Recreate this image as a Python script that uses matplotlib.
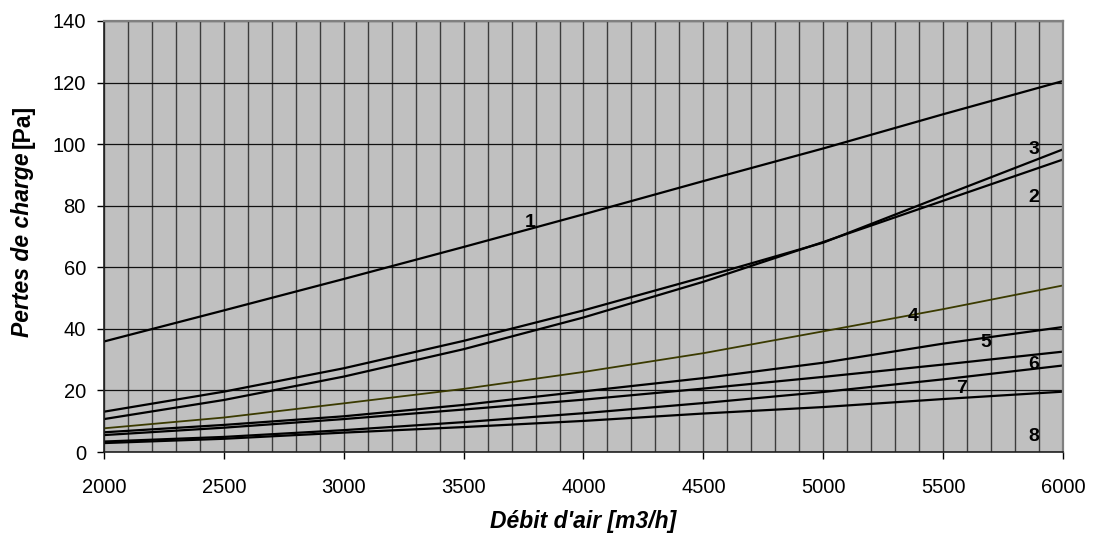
import matplotlib

matplotlib.use("Agg")

import matplotlib.pyplot as plt
from matplotlib.ticker import MultipleLocator


# Débit d'air [m3/h]
debit = [2000, 2500, 3000, 3500, 4000, 4500, 5000, 5500, 6000]

# Pertes de charge [Pa] for each curve
courbe_1 = [35.9, 46.0, 56.2, 66.6, 77.2, 88.0, 98.6, 109.7, 120.5]
courbe_2 = [10.7, 16.9, 24.5, 33.4, 43.7, 55.3, 68.2, 81.6, 95.0]
courbe_3 = [13.1, 19.6, 27.2, 36.1, 46.0, 56.8, 68.0, 83.2, 98.3]
courbe_4 = [7.7, 11.2, 15.8, 20.5, 26.0, 32.1, 39.2, 46.4, 54.1]
courbe_5 = [6.4, 8.8, 11.6, 15.3, 19.7, 24.0, 29.0, 35.2, 40.6]
courbe_6 = [5.5, 7.9, 10.7, 13.8, 17.0, 20.6, 24.4, 28.4, 32.6]
courbe_7 = [3.4, 4.9, 7.1, 9.7, 12.6, 15.9, 19.5, 23.6, 28.1]
courbe_8 = [2.9, 4.3, 6.3, 8.1, 10.1, 12.5, 14.6, 17.2, 19.6]

# curve number labels and where they sit (data coordinates)
label_text = ["1", "2", "3", "4", "5", "6", "7", "8"]
label_x = [3777, 5879, 5879, 5374, 5679, 5879, 5579, 5879]
label_y = [74.7, 82.8, 98.1, 43.9, 35.7, 28.3, 20.5, 4.9]


plt.rcParams["font.family"] = ["Liberation Sans", "DejaVu Sans"]

figure = plt.figure(figsize=(10.93, 5.41), dpi=100)
ax = figure.add_axes([0.0952, 0.1645, 0.8773, 0.7967])

ax.set_facecolor("#c0c0c0")

# grid: vertical every 100, horizontal every 20
ax.xaxis.set_minor_locator(MultipleLocator(100))
ax.xaxis.set_major_locator(MultipleLocator(500))
ax.yaxis.set_major_locator(MultipleLocator(20))

ax.grid(which="both", axis="x", color="#3c3c3c", linewidth=1.0)
ax.grid(which="major", axis="y", color="#111111", linewidth=0.9)
ax.set_axisbelow(True)

# curves
curves = [courbe_1, courbe_2, courbe_3, courbe_4,
          courbe_5, courbe_6, courbe_7, courbe_8]

for index, values in enumerate(curves):
    if index == 3:
        # curve 4 is drawn in a dark olive tone
        ax.plot(debit, values, color="#3a3a00", linewidth=1.3)
    else:
        ax.plot(debit, values, color="black", linewidth=1.6)

for text, x, y in zip(label_text, label_x, label_y):
    ax.text(x, y, text, fontsize=14, fontweight="bold",
            ha="center", va="center")

ax.set_xlim(2000, 6000)
ax.set_ylim(0, 140)

# frame: dark axis lines, gray border on top/right
for side in ["top", "right"]:
    ax.spines[side].set_color("#808080")
    ax.spines[side].set_linewidth(1.6)
for side in ["left", "bottom"]:
    ax.spines[side].set_color("#202020")
    ax.spines[side].set_linewidth(1.2)

ax.tick_params(axis="both", which="major", direction="out",
               length=5, width=1, labelsize=14.5)
ax.tick_params(axis="x", which="major", pad=14)
ax.tick_params(axis="y", which="major", pad=8)
ax.tick_params(axis="x", which="minor", length=0)

ax.set_xlabel("Débit d'air [m3/h]", fontsize=16.5,
              fontweight="bold", fontstyle="italic", labelpad=9)

# y label: italic part and plain bold unit
figure.text(0.021, 0.719, "Pertes de charge", rotation=90,
            fontsize=16.5, fontweight="bold", fontstyle="italic",
            ha="center", va="top")
figure.text(0.021, 0.7264, "[Pa]", rotation=90,
            fontsize=16.5, fontweight="bold",
            ha="center", va="bottom")

figure.savefig("out.png", dpi=100, facecolor="white")
